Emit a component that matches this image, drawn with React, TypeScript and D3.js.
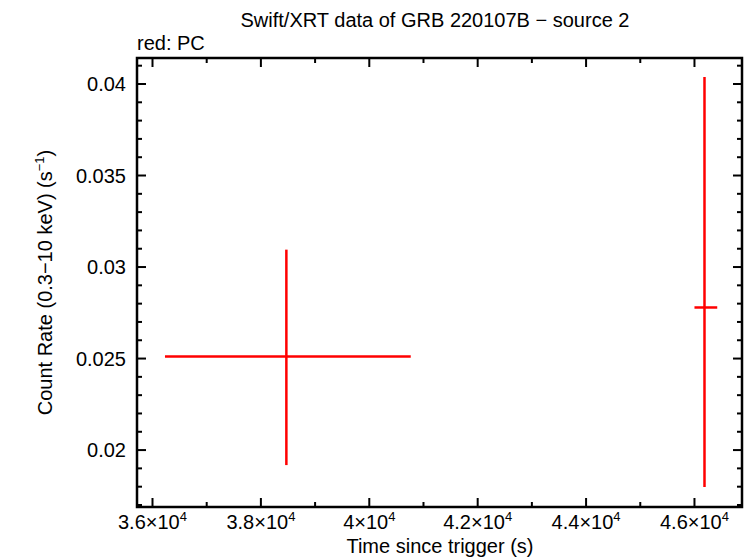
import React from 'react';
import * as d3 from 'd3';

// PC-mode points: time (s), time errors, rate, rate errors
const times = [38470, 46185];
const timeLo = [36230, 46000];
const timeHi = [40765, 46420];
const rates = [0.02511, 0.02779];
const rateLo = [0.01918, 0.01798];
const rateHi = [0.03095, 0.04038];

const xTicks = [36000, 38000, 40000, 42000, 44000, 46000];
const xTickLabels = ['3.6', '3.8', '4', '4.2', '4.4', '4.6'];
const yTicks = [0.02, 0.025, 0.03, 0.035, 0.04];
const yTickLabels = ['0.02', '0.025', '0.03', '0.035', '0.04'];

const W = 746;
const H = 558;
const m = { left: 137, right: 4, top: 58, bottom: 51 };
const FONT = 'Liberation Sans, Arial, Helvetica, sans-serif';

export default function App() {
  const x = d3.scaleLinear().domain([35714, 46877]).range([m.left, W - m.right]);
  const y = d3.scaleLinear().domain([0.01689, 0.04142]).range([H - m.bottom, m.top]);
  const [x0, x1] = x.range();
  const [y0, y1] = y.range();

  const xMinor = d3.range(35000, 47001, 1000).filter(v => v > 35714 && v < 46877 && v % 2000 !== 0);
  const yMinor = d3.range(17, 42).map(v => v / 1000).filter(v => Math.round(v * 1000) % 5 !== 0);

  const red = '#ff0000';
  const MJ = 9;
  const MN = 5;
  const FS = 20;

  return (
    <svg width={W} height={H} style={{ position: 'absolute', left: 0, top: 0, background: '#fff' }} fontFamily={FONT}>
      <text x={435} y={27} textAnchor="middle" fontSize={FS}>Swift/XRT data of GRB 220107B − source 2</text>
      <text x={137} y={50} fontSize={FS}>red: PC</text>

      {/* ticks */}
      <g stroke="#000" strokeWidth={2}>
        {xTicks.map(v => (
          <g key={'xt' + v}>
            <line x1={x(v)} x2={x(v)} y1={y0} y2={y0 - MJ} />
            <line x1={x(v)} x2={x(v)} y1={y1} y2={y1 + MJ} />
          </g>
        ))}
        {xMinor.map(v => (
          <g key={'xm' + v}>
            <line x1={x(v)} x2={x(v)} y1={y0} y2={y0 - MN} />
            <line x1={x(v)} x2={x(v)} y1={y1} y2={y1 + MN} />
          </g>
        ))}
        {yTicks.map(v => (
          <g key={'yt' + v}>
            <line x1={x0} x2={x0 + MJ} y1={y(v)} y2={y(v)} />
            <line x1={x1} x2={x1 - MJ} y1={y(v)} y2={y(v)} />
          </g>
        ))}
        {yMinor.map(v => (
          <g key={'ym' + v}>
            <line x1={x0} x2={x0 + MN} y1={y(v)} y2={y(v)} />
            <line x1={x1} x2={x1 - MN} y1={y(v)} y2={y(v)} />
          </g>
        ))}
      </g>
      <rect x={x0} y={y1} width={x1 - x0} height={y0 - y1} fill="none" stroke="#000" strokeWidth={2.5} />

      {/* tick labels */}
      {xTicks.map((v, i) => (
        <text key={'xl' + v} x={x(v)} y={y0 + 22} textAnchor="middle" fontSize={FS}>
          {xTickLabels[i]}×10<tspan fontSize={13} dy={-8}>4</tspan>
        </text>
      ))}
      {yTicks.map((v, i) => (
        <text key={'yl' + v} x={x0 - 11} y={y(v) + 7} textAnchor="end" fontSize={FS}>{yTickLabels[i]}</text>
      ))}

      {/* axis titles */}
      <text x={440} y={553} textAnchor="middle" fontSize={FS}>Time since trigger (s)</text>
      <text transform={`translate(52,${(y0 + y1) / 2}) rotate(-90)`} textAnchor="middle" fontSize={FS}>
        Count Rate (0.3−10 keV) (s<tspan fontSize={13} dy={-8}>−1</tspan><tspan dy={8}>)</tspan>
      </text>

      {/* data */}
      <g stroke={red} strokeWidth={2.5}>
        {times.map((t, i) => (
          <g key={'p' + i}>
            <line x1={x(timeLo[i])} x2={x(timeHi[i])} y1={y(rates[i])} y2={y(rates[i])} />
            <line x1={x(t)} x2={x(t)} y1={y(rateLo[i])} y2={y(rateHi[i])} />
          </g>
        ))}
      </g>
    </svg>
  );
}
